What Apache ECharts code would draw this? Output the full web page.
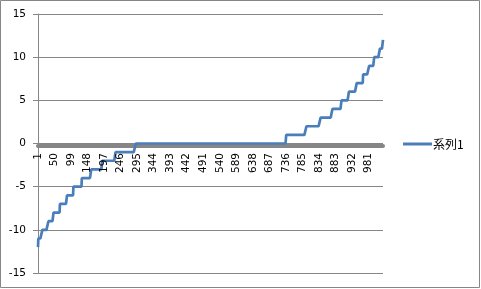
<!DOCTYPE html>
<html>
<head>
<meta charset="utf-8">
<script src="https://cdn.jsdelivr.net/npm/echarts@6/dist/echarts.min.js"></script>
<style>html,body{margin:0;padding:0;background:#fff}#c{width:481px;height:289px}</style>
</head>
<body>
<div id="c"></div>
<script>
// Series name
var seriesName = '系列1';
// Number of categories (1..N)
var categoryCount = 1024;
// Step levels of the series and the last category number holding each level
var stepValues    = [-12, -11, -10, -9, -8, -7, -6, -5, -4, -3, -2, -1, 0, 1, 2, 3, 4, 5, 6, 7, 8, 9, 10, 11, 12];
var stepLastIndex = [1, 13, 31, 46, 65, 86, 105, 130, 158, 190, 230, 290, 736, 796, 838, 873, 900, 922, 945, 964, 982, 997, 1014, 1023, 1024];
// Y axis ticks
var yMin = -15, yMax = 15, yStep = 5;

var categories = [];
for (var i = 1; i <= categoryCount; i++) categories.push(String(i));
var values = [];
var s = 0;
for (var i = 1; i <= categoryCount; i++) {
  while (i > stepLastIndex[s]) s++;
  values.push(stepValues[s]);
}

var chart = echarts.init(document.getElementById('c'), null, {renderer: 'canvas'});
var font = 'DejaVu Sans';
chart.setOption({
  animation: false,
  backgroundColor: '#ffffff',
  graphic: [{
    type: 'rect', shape: {x: 0.5, y: 0.5, width: 479, height: 287},
    style: {fill: 'none', stroke: '#868686', lineWidth: 1}, z: 0
  }],
  grid: {left: 38, right: 98, top: 14, bottom: 16, containLabel: false, outerBoundsMode: 'none'},
  legend: {
    data: [seriesName], left: 398, top: 133, orient: 'vertical',
    icon: 'rect', itemWidth: 29, itemHeight: 3,
    textStyle: {fontFamily: 'Noto Sans CJK JP', fontSize: 12, color: '#000', padding: [0, 0, 0, -4]}
  },
  xAxis: [{
    type: 'category', data: categories, boundaryGap: false,
    position: 'bottom', offset: -127,
    axisLine: {show: true, onZero: false, lineStyle: {color: '#868686', width: 4}},
    axisTick: {show: false},
    axisLabel: {show: false},
    splitLine: {show: false}
  }, {
    type: 'category', data: categories, boundaryGap: false,
    position: 'bottom', offset: -127, z: 10,
    axisLine: {show: false, onZero: false},
    axisTick: {show: false},
    axisLabel: {interval: 48, rotate: 90, margin: 7, fontFamily: font, fontSize: 10.5, color: '#000'},
    splitLine: {show: false}
  }],
  yAxis: {
    type: 'value', min: yMin, max: yMax, interval: yStep,
    axisLine: {show: true, lineStyle: {color: '#868686', width: 1}},
    axisTick: {show: true, length: 5, lineStyle: {color: '#868686'}},
    axisLabel: {margin: 12, fontFamily: font, fontSize: 10.5, color: '#000'},
    splitLine: {show: true, lineStyle: {color: '#868686', width: 1}}
  },
  series: [{
    name: seriesName, type: 'line', data: values, symbol: 'none', showSymbol: false,
    xAxisIndex: 0, z: 3,
    lineStyle: {color: '#4A7EBB', width: 2.7},
    itemStyle: {color: '#4A7EBB'}
  }]
});
</script>
</body>
</html>
